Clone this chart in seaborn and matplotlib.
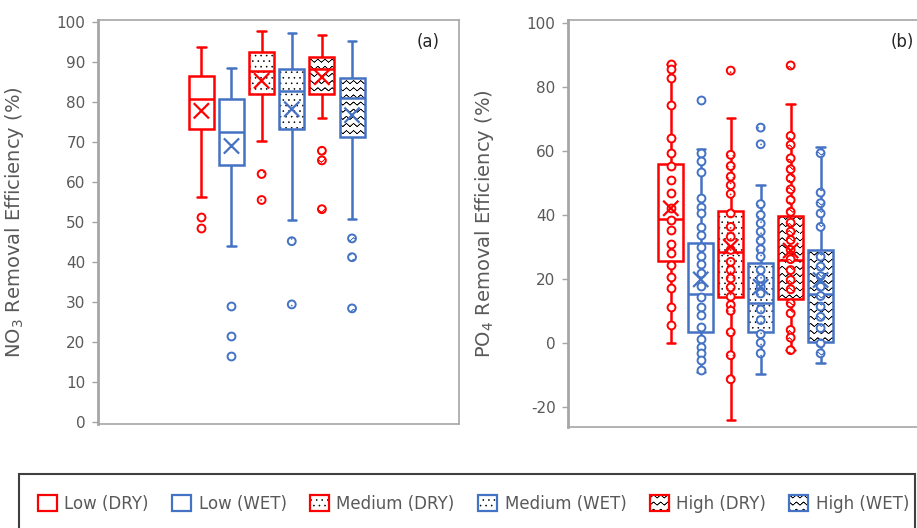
import warnings
import numpy as np
import pandas as pd
import seaborn as sns
import matplotlib.pyplot as plt
import matplotlib.hatch as mhatch
from matplotlib.path import Path
from matplotlib.patches import Patch, Rectangle

warnings.filterwarnings("ignore")

# ---- data ----
groups = ["Low (DRY)", "Low (WET)", "Medium (DRY)", "Medium (WET)", "High (DRY)", "High (WET)"]

# NO3 panel: box summaries, means and outliers
no3_whis_lo = [56.3, 44.0, 70.3, 50.5, 76.0, 50.7]
no3_q1 = [73.2, 64.2, 82.0, 73.3, 82.0, 71.2]
no3_median = [80.8, 72.5, 87.8, 82.7, 88.3, 81.0]
no3_q3 = [86.6, 80.8, 92.5, 88.3, 91.3, 86.0]
no3_whis_hi = [93.7, 88.6, 97.7, 97.3, 96.8, 95.3]
no3_mean = [77.8, 69.0, 85.3, 78.2, 86.2, 76.7]
no3_outliers = [
    [51.3, 48.6],
    [29.0, 21.6, 16.5],
    [62.0, 55.5],
    [45.2, 29.4],
    [67.8, 65.4, 53.2],
    [45.9, 41.2, 28.4],
]

# PO4 panel: box summaries, means and all points
po4_whis_lo = [0.0, -9.0, -24.2, -9.9, -2.3, -6.4]
po4_q1 = [25.4, 3.4, 14.3, 3.4, 13.7, 0.3]
po4_median = [38.8, 15.1, 28.2, 12.3, 25.8, 15.2]
po4_q3 = [55.8, 31.1, 41.3, 25.0, 39.7, 29.0]
po4_whis_hi = [87.1, 60.5, 70.1, 49.4, 74.5, 61.0]
po4_mean = [42.0, 19.8, 30.0, 17.5, 28.8, 19.6]
po4_points = [
    [87.1, 85.4, 82.6, 74.1, 64.1, 59.2, 55.2, 50.8, 46.7, 42.0, 38.3, 35.2,
     30.8, 27.9, 24.3, 20.6, 17.0, 11.3, 5.4],
    [75.8, 59.2, 56.9, 53.2, 45.1, 42.5, 40.4, 36.2, 33.6, 30.0, 27.1, 24.6,
     21.7, 17.7, 14.4, 11.3, 8.6, 4.8, 1.1, -1.4, -3.3, -5.4, -8.5],
    [85.0, 58.7, 55.2, 51.9, 49.2, 46.5, 40.4, 36.2, 33.1, 29.0, 25.3, 22.7,
     20.1, 17.3, 14.4, 11.8, 10.0, 3.3, -3.9, -11.4],
    [67.2, 62.0, 43.3, 39.9, 37.3, 34.7, 31.9, 29.2, 26.9, 22.7, 20.1, 17.5,
     15.4, 10.4, 7.1, 2.7, 0.0, -3.3],
    [86.6, 64.6, 61.8, 57.6, 54.2, 51.4, 47.9, 44.6, 40.9, 37.5, 34.7, 32.1,
     29.0, 26.1, 22.7, 19.6, 16.7, 12.3, 9.2, 4.0, 1.6, -2.3],
    [59.2, 46.9, 43.6, 40.4, 36.2, 26.9, 23.8, 20.8, 17.5, 14.6, 11.3, 8.1,
     4.6, -0.2, -3.3],
]

# ---- styles ----
colors = ["#FF0000", "#4472C4", "#FF0000", "#4472C4", "#FF0000", "#4472C4"]
hatches = ["", "", "...", "...", "~", "~"]
text_gray = "#595959"
axis_gray = "#A6A6A6"


# wavy hatch like the Excel pattern fill
# (each zigzag is traced out and back so agg's hatch fill has zero area)
class WaveHatch(mhatch.HatchPatternBase):
    def __init__(self, hatch, density):
        self.num_lines = int(hatch.count("~") * density * 2.4)
        self.n_pts = 29
        self.per_line = 2 * self.n_pts - 1
        self.num_vertices = self.num_lines * self.per_line

    def set_vertices_and_codes(self, vertices, codes):
        ys = (np.arange(self.num_lines) + 0.5) / self.num_lines
        xs = np.linspace(0, 1, self.n_pts)
        amp = 0.22 / self.num_lines
        offs = np.where(np.arange(self.n_pts) % 2 == 0, -amp, amp)
        xs = np.concatenate([xs, xs[-2::-1]])
        offs = np.concatenate([offs, offs[-2::-1]])
        for k, y in enumerate(ys):
            sl = slice(k * self.per_line, (k + 1) * self.per_line)
            vertices[sl, 0] = xs
            vertices[sl, 1] = y + offs
            codes[sl] = Path.LINETO
            codes[k * self.per_line] = Path.MOVETO


mhatch._hatch_types.append(WaveHatch)


def black_hatch(artist):
    if hasattr(artist, "set_hatchcolor"):
        artist.set_hatchcolor("black")
    else:
        artist._hatch_color = (0, 0, 0, 1)


def box_frame(lo, q1, med, q3, hi):
    rows = []
    for g, vals in zip(groups, zip(lo, q1, med, q3, hi)):
        for v in vals:
            rows.append({"group": g, "value": v})
    return pd.DataFrame(rows)


sns.set_style("white")
plt.rcParams["font.family"] = ["DejaVu Sans"]
plt.rcParams["axes.unicode_minus"] = False
plt.rcParams["hatch.linewidth"] = 0.4
plt.rcParams["hatch.color"] = "black"

fig = plt.figure(figsize=(9.17, 5.28), dpi=100)
ax1 = fig.add_axes([98 / 917, 1 - 424 / 528, (459 - 98) / 917, (424 - 20) / 528])
ax2 = fig.add_axes([568 / 917, 1 - 427 / 528, (927 - 568) / 917, (427 - 20) / 528])


def draw_panel(ax, box_df, means, points, ylim, yticks, ylabel, tag, tag_x):
    sns.boxplot(data=box_df, x="group", y="value", hue="group", order=groups,
                hue_order=groups, palette=colors, whis=(0, 100), width=0.83,
                linewidth=1.8, capwidths=0.28, legend=False, ax=ax)
    # excel look: white boxes, outline and lines in the series colour
    for patch, c, h in zip(ax.patches, colors, hatches):
        patch.set_facecolor("white")
        patch.set_edgecolor(c)
        if h:
            patch.set_hatch(h)
            black_hatch(patch)
    for line in ax.lines:
        xd = np.asarray(line.get_xdata(), dtype=float)
        if xd.size:
            line.set_color(colors[int(round(xd.mean()))])
    for i, (pts, c, h) in enumerate(zip(points, colors, hatches)):
        ax.scatter(np.full(len(pts), i), pts, s=32, facecolors="white",
                   edgecolors=c, linewidths=1.4, hatch=h or None, zorder=3)
    ax.scatter(range(len(groups)), means, marker="x", s=120, c=colors,
               linewidths=1.6, zorder=4)
    ax.set_xlim(-3.43, 8.55)
    ax.set_ylim(*ylim)
    ax.set_yticks(yticks)
    ax.set_xticks([])
    ax.set_xlabel("")
    ax.set_ylabel(ylabel, fontsize=14, color=text_gray)
    ax.yaxis.set_label_coords(-0.2, 0.5)
    ax.tick_params(axis="y", which="major", left=True, length=4, width=1,
                   color=axis_gray, labelsize=11, labelcolor=text_gray, pad=5)
    for side, sp in ax.spines.items():
        sp.set_visible(True)
        sp.set_color(axis_gray)
        sp.set_linewidth(2.0 if side == "left" else 1.2)
    ax.text(tag_x, 0.946, tag, transform=ax.transAxes, ha="center", va="center",
            fontsize=12, color="#262626")


draw_panel(ax1, box_frame(no3_whis_lo, no3_q1, no3_median, no3_q3, no3_whis_hi),
           no3_mean, no3_outliers, (-0.5, 100.5), range(0, 101, 10),
           "$\\mathregular{NO_3}$ Removal Efficiency (%)", "(a)", 0.914)
draw_panel(ax2, box_frame(po4_whis_lo, po4_q1, po4_median, po4_q3, po4_whis_hi),
           po4_mean, po4_points, (-26.3, 100.8), range(-20, 101, 20),
           "$\\mathregular{PO_4}$ Removal Efficiency (%)", "(b)", 0.930)

# legend
handles = []
for g, c, h in zip(groups, colors, hatches):
    p = Patch(facecolor="white", edgecolor=c, hatch=h or None, linewidth=1.6, label=g)
    if h:
        black_hatch(p)
    handles.append(p)
fig.legend(handles=handles, loc="center", bbox_to_anchor=(473.5 / 917, 1 - 504 / 528),
           ncol=6, frameon=False, fontsize=12, handlelength=1.14, handleheight=1.08,
           handletextpad=0.45, columnspacing=1.4, labelcolor=text_gray)
fig.add_artist(Rectangle((19 / 917, -0.1), (915 - 19) / 917, 0.1 + 1 - 474 / 528,
                         transform=fig.transFigure, fill=False,
                         edgecolor="#404040", linewidth=1.5))

fig.savefig("out.png", dpi=100)
